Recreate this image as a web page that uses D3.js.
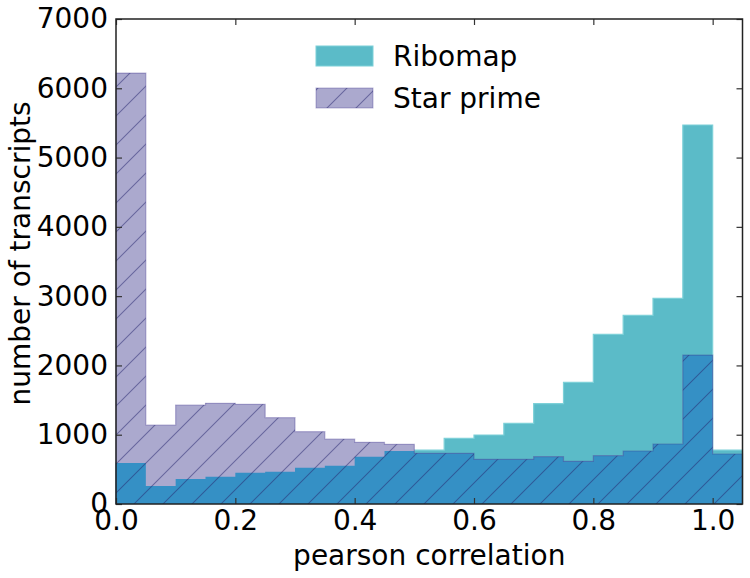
<!DOCTYPE html>
<html>
<head>
<meta charset="utf-8">
<script src="https://cdn.jsdelivr.net/npm/d3@7"></script>
<style>
  html, body { margin: 0; padding: 0; background: #ffffff; }
  svg { display: block; }
  text { font-family: "DejaVu Sans", sans-serif; fill: #000; }
</style>
</head>
<body>
<svg id="chart" width="750" height="578"></svg>
<script>
// ---- data ----
const binEdges = [0.00,0.05,0.10,0.15,0.20,0.25,0.30,0.35,0.40,0.45,0.50,
                  0.55,0.60,0.65,0.70,0.75,0.80,0.85,0.90,0.95,1.00,1.05];
const ribomap = [590, 260, 361, 394, 452, 466, 524, 553, 683, 765,
                 779, 948, 996, 1164, 1448, 1756, 2449, 2723, 2968, 5470, 779];
const starPrime = [6220, 1140, 1429, 1453, 1439, 1246, 1044, 938, 890, 862,
                   732, 732, 645, 645, 683, 616, 698, 765, 866, 2150, 722];
const xTicks = [0.0, 0.2, 0.4, 0.6, 0.8, 1.0];
const yTicks = [0, 1000, 2000, 3000, 4000, 5000, 6000, 7000];
const seriesNames = ["Ribomap", "Star prime"];

// ---- layout ----
const svg = d3.select("#chart");
const L = 116, R = 742.5, T = 19, B = 504;
const x = d3.scaleLinear().domain([0, 1.05]).range([L, R]);
const y = d3.scaleLinear().domain([0, 7000]).range([B, T]);

const colCyan = "#5bbbc8", colCyanEdge = "#7dd0d8";
const colLav = "#aba9ce", colBlue = "#3590c5";

// hatch pattern
const defs = svg.append("defs");
const hs = 29;
const pat = defs.append("pattern").attr("id", "hatch")
  .attr("patternUnits", "userSpaceOnUse").attr("width", hs).attr("height", hs);
pat.append("path")
  .attr("d", `M0,${hs} L${hs},0 M${-hs/2},${hs/2} L${hs/2},${-hs/2} M${hs/2},${hs*1.5} L${hs*1.5},${hs/2}`)
  .attr("stroke", "rgba(35,35,110,0.5)").attr("stroke-width", 1.1).attr("fill", "none");

function stepPts(vals) {
  const pts = vals.map((v, i) => [binEdges[i], v]);
  pts.push([binEdges[binEdges.length - 1], vals[vals.length - 1]]);
  return pts;
}
const area = d3.area().x(d => x(d[0])).y0(y(0)).y1(d => y(d[1])).curve(d3.curveStepAfter);
function outline(vals) {
  const p = d3.path();
  p.moveTo(x(binEdges[0]), y(0));
  vals.forEach((v, i) => { p.lineTo(x(binEdges[i]), y(v)); p.lineTo(x(binEdges[i + 1]), y(v)); });
  p.lineTo(x(binEdges[binEdges.length - 1]), y(0));
  return p.toString();
}
const overlap = ribomap.map((v, i) => Math.min(v, starPrime[i]));

const g = svg.append("g");
g.append("path").attr("d", area(stepPts(ribomap))).attr("fill", colCyan);
g.append("path").attr("d", outline(ribomap)).attr("fill", "none").attr("stroke", colCyanEdge).attr("stroke-width", 1.2);
g.append("path").attr("d", area(stepPts(starPrime))).attr("fill", colLav);
g.append("path").attr("d", area(stepPts(overlap))).attr("fill", colBlue);
g.append("path").attr("d", area(stepPts(starPrime))).attr("fill", "url(#hatch)");
g.append("path").attr("d", outline(starPrime)).attr("fill", "none")
  .attr("stroke", "rgba(60,50,140,0.35)").attr("stroke-width", 1.2);

// ---- axes ----
const fs = "28px";
const xb = svg.append("g").attr("transform", `translate(0,${B})`)
  .call(d3.axisBottom(x).tickValues(xTicks).tickFormat(d3.format(".1f")).tickSize(-6).tickSizeOuter(0).tickPadding(6));
const xt = svg.append("g").attr("transform", `translate(0,${T})`)
  .call(d3.axisTop(x).tickValues(xTicks).tickFormat("").tickSize(-6).tickSizeOuter(0));
const yl = svg.append("g").attr("transform", `translate(${L},0)`)
  .call(d3.axisLeft(y).tickValues(yTicks).tickFormat(d3.format("d")).tickSize(-6).tickSizeOuter(0).tickPadding(8));
const yr = svg.append("g").attr("transform", `translate(${R},0)`)
  .call(d3.axisRight(y).tickValues(yTicks).tickFormat("").tickSize(-6).tickSizeOuter(0));
[xb, xt, yl, yr].forEach(a => {
  a.select(".domain").remove();
  a.selectAll(".tick line").attr("stroke", "#333").attr("stroke-width", 1.2);
  a.selectAll("text").style("font-size", fs).attr("fill", "#000").style("font-family", "DejaVu Sans");
});

svg.append("rect").attr("x", L).attr("y", T).attr("width", R - L).attr("height", B - T)
  .attr("fill", "none").attr("stroke", "#222").attr("stroke-width", 1.5);

// axis labels
svg.append("text").attr("x", (L + R) / 2).attr("y", 565).attr("text-anchor", "middle")
  .style("font-size", fs).text("pearson correlation");
svg.append("text").attr("transform", `translate(30,${(T + B) / 2 - 8}) rotate(-90)`)
  .attr("text-anchor", "middle").style("font-size", fs).text("number of transcripts");

// legend
const lg = svg.append("g");
const legendRows = [
  { name: seriesNames[0], fill: colCyan, stroke: colCyanEdge, hatch: false, y: 46 },
  { name: seriesNames[1], fill: colLav, stroke: "rgba(60,50,140,0.35)", hatch: true, y: 88 }
];
legendRows.forEach(r => {
  lg.append("rect").attr("x", 316).attr("y", r.y).attr("width", 57).attr("height", 20)
    .attr("fill", r.fill).attr("stroke", r.stroke).attr("stroke-width", 1);
  if (r.hatch) lg.append("rect").attr("x", 316).attr("y", r.y).attr("width", 57).attr("height", 20)
    .attr("fill", "url(#hatch)");
  lg.append("text").attr("x", 393).attr("y", r.y + 20).style("font-size", fs).text(r.name);
});
</script>
</body>
</html>
